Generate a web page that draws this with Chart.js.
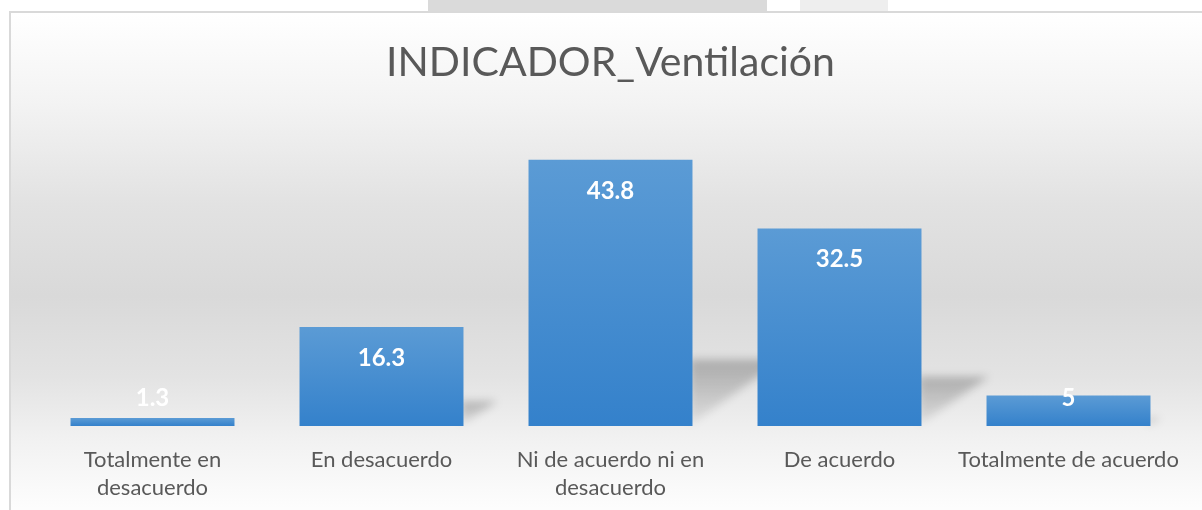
<!DOCTYPE html>
<html>
<head>
<meta charset="utf-8">
<script src="https://cdn.jsdelivr.net/npm/chart.js@4.4.1/dist/chart.umd.min.js"></script>
<style>
  html, body { margin: 0; padding: 0; background: #fff; overflow: hidden; }
  #wrap { position: relative; width: 1202px; height: 510px; }
  #bg {
    position: absolute; left: 9px; top: 11px; width: 1200px; height: 505px;
    border-top: 2px solid #d9d9d9; border-left: 2px solid #d9d9d9;
    background: linear-gradient(to bottom, #ffffff 0%, #f3f3f3 18%, #e2e2e2 38%,
      #d9d9d9 56%, #e3e3e3 72%, #f1f1f1 84%, #fdfdfd 98%);
  }
  /* faint picture strip peeking above the chart frame */
  #strip1 { position: absolute; left: 428px; top: 0; width: 339px; height: 11px; background: #dadada; }
  #strip2 { position: absolute; left: 800px; top: 0; width: 88px; height: 11px; background: #eeeeee; }
  canvas { position: absolute; left: 0; top: 0; }
</style>
</head>
<body>
<div id="wrap">
  <div id="strip1"></div>
  <div id="strip2"></div>
  <div id="bg"></div>
  <canvas id="chart" width="1202" height="510"></canvas>
</div>
<script>
// chart data
const categories = [
  ['Totalmente en', 'desacuerdo'],
  'En desacuerdo',
  ['Ni de acuerdo ni en', 'desacuerdo'],
  'De acuerdo',
  'Totalmente de acuerdo'
];
const values = [1.3, 16.3, 43.8, 32.5, 5];
const valueLabels = ['1.3', '16.3', '43.8', '32.5', '5'];

const textColor = '#595959';

// soft perspective shadow on the right of each bar
const shadowPlugin = {
  id: 'barShadow',
  beforeDatasetsDraw(chart) {
    const ctx = chart.ctx;
    const meta = chart.getDatasetMeta(0);
    ctx.save();
    ctx.filter = 'blur(4px)';
    meta.data.forEach(el => {
      const xr = el.x + el.width / 2;
      const h = el.base - el.y;
      const top = el.base - 0.25 * h;
      const g = ctx.createLinearGradient(0, top, 0, el.base);
      g.addColorStop(0, 'rgba(0,0,0,0.24)');
      g.addColorStop(1, 'rgba(0,0,0,0.06)');
      ctx.fillStyle = g;
      ctx.beginPath();
      ctx.moveTo(xr - 3, el.base - 1);
      ctx.lineTo(xr - 3, top);
      ctx.lineTo(xr + 0.34 * h, top);
      ctx.closePath();
      ctx.fill();
    });
    ctx.restore();
  }
};

// white value labels near the top of each bar
const valueLabelPlugin = {
  id: 'valueLabels',
  afterDatasetsDraw(chart) {
    const ctx = chart.ctx;
    const meta = chart.getDatasetMeta(0);
    ctx.save();
    ctx.fillStyle = '#ffffff';
    ctx.font = 'bold 24px Lato';
    ctx.textAlign = 'center';
    ctx.textBaseline = 'middle';
    meta.data.forEach((el, i) => {
      const y = Math.min(el.y + 31, el.base - 28);
      ctx.fillText(valueLabels[i], el.x, y);
    });
    ctx.restore();
  }
};

function barGradient(context) {
  const chart = context.chart;
  if (!chart.chartArea) return '#5b9bd5';
  const yScale = chart.scales.y;
  const top = yScale.getPixelForValue(context.raw);
  const base = yScale.getPixelForValue(0);
  const g = chart.ctx.createLinearGradient(0, top, 0, base);
  g.addColorStop(0, '#5b9bd5');
  g.addColorStop(1, '#3481cb');
  return g;
}

new Chart(document.getElementById('chart'), {
  type: 'bar',
  data: {
    labels: categories,
    datasets: [{
      data: values,
      backgroundColor: barGradient,
      borderWidth: 0,
      categoryPercentage: 1,
      barPercentage: 0.716
    }]
  },
  options: {
    responsive: false,
    animation: false,
    devicePixelRatio: 1,
    layout: { padding: { left: 38, right: 19, top: 0, bottom: 0 } },
    plugins: {
      legend: { display: false },
      tooltip: { enabled: false },
      title: {
        display: true,
        text: 'INDICADOR_Ventilación',
        color: textColor,
        font: { family: 'Lato', size: 41, weight: 'normal' },
        padding: { top: 38, bottom: 35 }
      }
    },
    scales: {
      x: {
        grid: { display: false, drawTicks: false },
        border: { display: false },
        ticks: {
          color: textColor,
          font: { family: 'Lato', size: 22, lineHeight: 1.27 },
          padding: 20,
          maxRotation: 0,
          autoSkip: false
        },
        afterFit: s => { s.height = 84; }
      },
      y: {
        display: false,
        min: 0,
        max: 50
      }
    }
  },
  plugins: [shadowPlugin, valueLabelPlugin]
});
</script>
</body>
</html>
